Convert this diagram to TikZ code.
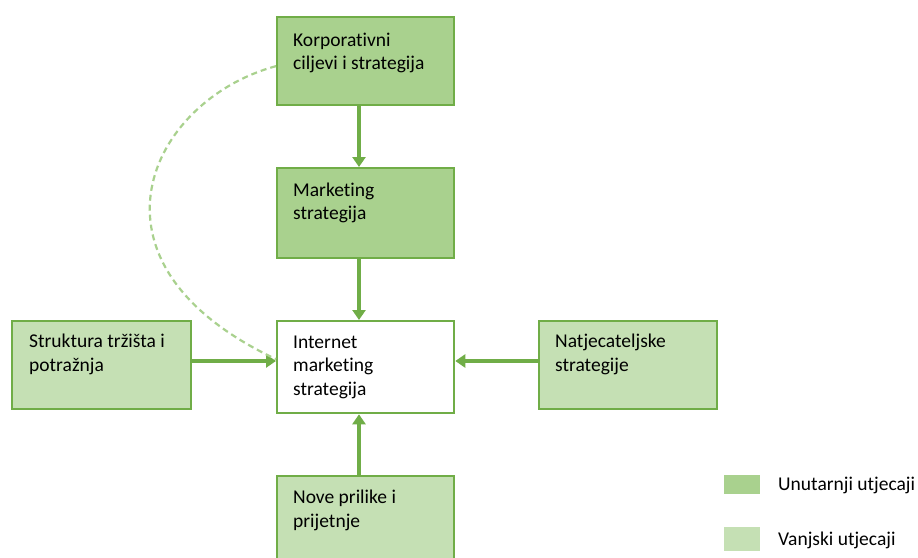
\documentclass[tikz,border=0pt]{standalone}
\usepackage{fontspec}
\setmainfont{Carlito}[Ligatures=NoCommon]
\usetikzlibrary{arrows.meta}
\definecolor{darkfill}{HTML}{A9D18E}
\definecolor{lightfill}{HTML}{C5E0B4}
\definecolor{edgegreen}{HTML}{70AD47}
\begin{document}
\begin{tikzpicture}[x=1pt,y=-1pt,
  boxshape/.style={draw=edgegreen, line width=2.3pt, anchor=north west, inner sep=0pt},
  darkbox/.style={boxshape, fill=darkfill},
  lightbox/.style={boxshape, fill=lightfill},
  whitebox/.style={boxshape, fill=white},
  txt/.style={anchor=base west, inner sep=0pt, align=left, font=\fontsize{19.5}{23.5}\selectfont},
  arr/.style={draw=edgegreen, line width=3.2pt, -{Triangle[length=10pt,width=13pt]}},
  dashline/.style={draw=darkfill, line width=2.2pt, dash pattern=on 6pt off 4pt},
  legendbox/.style={fill, anchor=north west, inner sep=0pt, minimum width=36pt},
]
\useasboundingbox (0,0) rectangle (918,557);
% boxes
\node[darkbox, minimum width=177pt, minimum height=88pt] (korp) at (276,16) {};
\node[darkbox, minimum width=177pt, minimum height=90pt] (mkt) at (276,167) {};
\node[whitebox, minimum width=177pt, minimum height=92pt] (inet) at (276,320) {};
\node[lightbox, minimum width=179pt, minimum height=88pt] (strk) at (11,320) {};
\node[lightbox, minimum width=178pt, minimum height=88pt] (natj) at (538,320) {};
\node[lightbox, minimum width=177pt, minimum height=100pt] (nove) at (276,475) {};
% texts (anchor is the baseline of the last line)
\node[txt] (korpT) at ([xshift=17pt,yshift=-53.5pt]korp.north west) {Korporativni\\ciljevi i strategija};
\node[txt] (mktT) at ([xshift=17pt,yshift=-52.5pt]mkt.north west) {Marketing\\strategija};
\node[txt] (inetT) at ([xshift=17pt,yshift=-75pt]inet.north west) {Internet\\marketing\\strategija};
\node[txt] (strkT) at ([xshift=18pt,yshift=-51pt]strk.north west) {Struktura tržišta i\\potražnja};
\node[txt] (natjT) at ([xshift=17pt,yshift=-51pt]natj.north west) {Natjecateljske\\strategije};
\node[txt] (noveT) at ([xshift=17pt,yshift=-52pt]nove.north west) {Nove prilike i\\prijetnje};
% helper lines
\coordinate (vl) at (359,0);
\coordinate (hl) at (0,361);
% arrows
\draw[arr] (korp.south -| vl) -- (mkt.north -| vl);
\draw[arr] (mkt.south -| vl) -- (inet.north -| vl);
\draw[arr] (nove.north -| vl) -- (inet.south -| vl);
\draw[arr] (strk.east |- hl) -- (inet.west |- hl);
\draw[arr] (natj.west |- hl) -- (inet.east |- hl);
\draw[dashline] ([yshift=-5pt]korp.west) .. controls (150,100) and (70,262) .. ([yshift=8pt]inet.west);
% legend
\node[legendbox, fill=darkfill, minimum height=19pt] (legA) at (724,475) {};
\node[legendbox, fill=lightfill, minimum height=24pt] (legB) at (724,527) {};
\node[txt] (legAT) at (778,490) {Unutarnji utjecaji};
\node[txt] (legBT) at (778,545) {Vanjski utjecaji};
\end{tikzpicture}
\end{document}
